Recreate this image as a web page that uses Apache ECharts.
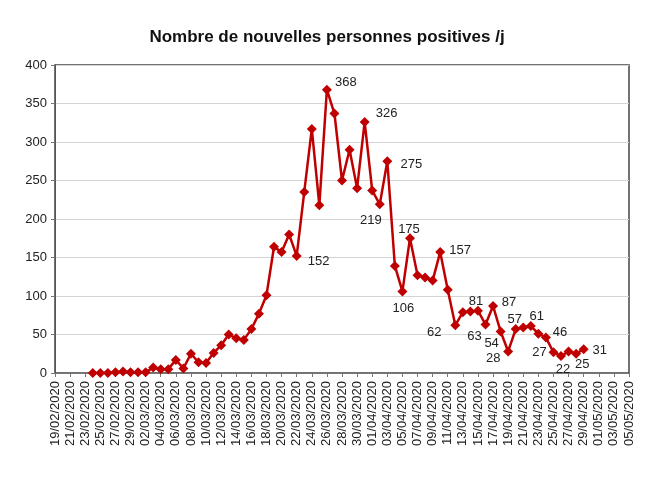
<!DOCTYPE html>
<html>
<head>
<meta charset="utf-8">
<script src="https://cdn.jsdelivr.net/npm/echarts@6/dist/echarts.min.js"></script>
<style>
html,body{margin:0;padding:0;background:#fff;}
#c{width:665px;height:478px;}
</style>
</head>
<body>
<div id="c"></div>
<script>
const titleText = "Nombre de nouvelles personnes positives /j";
const dates = [
"19/02/2020","20/02/2020","21/02/2020","22/02/2020","23/02/2020","24/02/2020","25/02/2020","26/02/2020","27/02/2020","28/02/2020","29/02/2020",
"01/03/2020","02/03/2020","03/03/2020","04/03/2020","05/03/2020","06/03/2020","07/03/2020","08/03/2020","09/03/2020","10/03/2020",
"11/03/2020","12/03/2020","13/03/2020","14/03/2020","15/03/2020","16/03/2020","17/03/2020","18/03/2020","19/03/2020","20/03/2020",
"21/03/2020","22/03/2020","23/03/2020","24/03/2020","25/03/2020","26/03/2020","27/03/2020","28/03/2020","29/03/2020","30/03/2020","31/03/2020",
"01/04/2020","02/04/2020","03/04/2020","04/04/2020","05/04/2020","06/04/2020","07/04/2020","08/04/2020","09/04/2020","10/04/2020",
"11/04/2020","12/04/2020","13/04/2020","14/04/2020","15/04/2020","16/04/2020","17/04/2020","18/04/2020","19/04/2020","20/04/2020",
"21/04/2020","22/04/2020","23/04/2020","24/04/2020","25/04/2020","26/04/2020","27/04/2020","28/04/2020","29/04/2020","30/04/2020",
"01/05/2020","02/05/2020","03/05/2020","04/05/2020","05/05/2020"
];
// daily new positives, 24/02/2020 .. 29/04/2020
const firstDate = "24/02/2020";
const values = [
0,0,0,1,2,1,1,1,7,5,5,17,6,25,14,13,26,36,50,45,43,57,77,101,164,157,180,152,
235,317,218,368,337,250,290,240,326,237,219,275,139,106,175,127,124,120,157,108,
62,79,80,81,63,87,54,28,57,59,61,51,46,27,22,28,25,31
];
// dates whose value is printed on the chart
const labelledDates = ["22/03/2020","26/03/2020","31/03/2020","02/04/2020","03/04/2020","05/04/2020","06/04/2020",
"10/04/2020","12/04/2020","15/04/2020","16/04/2020","17/04/2020","18/04/2020","19/04/2020","20/04/2020","22/04/2020",
"24/04/2020","25/04/2020","26/04/2020","28/04/2020","29/04/2020"];
const yTicks = [0,50,100,150,200,250,300,350,400];

// label placement (style only): offset of label centre from marker centre
const labelOffsets = {
"26/03/2020":[19,-7],"22/03/2020":[22,5],"31/03/2020":[22,-9],"03/04/2020":[24,3],"02/04/2020":[-9,16],
"06/04/2020":[-1,-9],"05/04/2020":[1,17],"10/04/2020":[20,-2],"12/04/2020":[-21,7],"15/04/2020":[-2,-9],
"16/04/2020":[-11,12],"17/04/2020":[16,-4],"18/04/2020":[-9,12],"19/04/2020":[-15,7],"20/04/2020":[-1,-10],
"22/04/2020":[6,-10],"24/04/2020":[14,-5],"25/04/2020":[-14,0],"26/04/2020":[2,13],"28/04/2020":[6,11],"29/04/2020":[16,1]
};
const SYM = 10;

const start = dates.indexOf(firstDate);
const seriesData = dates.map((d,i)=>{
  const k = i - start;
  if (k < 0 || k >= values.length) return null;
  const item = {value: values[k]};
  if (labelledDates.indexOf(d) >= 0) {
    const off = labelOffsets[d] || [0,-10];
    item.label = {show:true, position:[SYM/2 + off[0], SYM/2 + off[1]], align:'center', verticalAlign:'middle'};
  }
  return item;
});

const chart = echarts.init(document.getElementById('c'), null, {renderer:'canvas'});
chart.setOption({
  animation:false,
  backgroundColor:'#ffffff',
  title:{
    text:titleText, left:322, textAlign:'center', top:24,
    textStyle:{fontFamily:'Liberation Sans, Arial, sans-serif', fontWeight:'bold', fontSize:17, color:'#111'}
  },
  grid:{left:55, right:36, top:65, bottom:105, show:true, borderColor:'#444', borderWidth:1.5, backgroundColor:'transparent'},
  xAxis:{
    type:'category', data:dates, boundaryGap:false,
    axisLine:{lineStyle:{color:'#777', width:1}},
    axisTick:{show:true, interval:1, length:4, lineStyle:{color:'#777'}},
    axisLabel:{interval:1, rotate:90, fontSize:13, color:'#222', fontFamily:'Liberation Sans, Arial, sans-serif', margin:8},
    splitLine:{show:false}
  },
  yAxis:{
    type:'value', min:yTicks[0], max:yTicks[yTicks.length-1], interval:yTicks[1]-yTicks[0],
    axisLine:{show:true, lineStyle:{color:'#555', width:1}},
    axisTick:{show:true, length:4, lineStyle:{color:'#777'}},
    axisLabel:{fontSize:13, color:'#222', fontFamily:'Liberation Sans, Arial, sans-serif', margin:8},
    splitLine:{show:true, lineStyle:{color:'#d4d4d4', width:1}}
  },
  series:[{
    type:'line', data:seriesData, connectNulls:false,
    showAllSymbol:true,
    symbol:'diamond', symbolSize:SYM,
    lineStyle:{color:'#c00000', width:2.5},
    itemStyle:{color:'#c00000'},
    label:{show:false, fontSize:13, color:'#222', fontFamily:'Liberation Sans, Arial, sans-serif'},
    z:3
  }]
});
</script>
</body>
</html>
